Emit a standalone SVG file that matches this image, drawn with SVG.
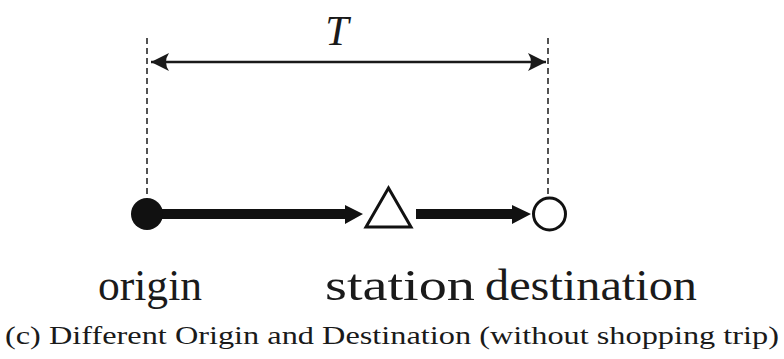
<svg xmlns="http://www.w3.org/2000/svg" width="784" height="359" viewBox="0 0 784 359">
<style>
.dash{stroke:#1a1a1a;stroke-width:1.5;stroke-dasharray:6,4;fill:none}
.lbl{font-family:'Liberation Serif','Times New Roman',Times,serif;fill:#1a1a1a}
</style>
<defs>
<marker id="dimhead" viewBox="0 0 20 20" refX="18" refY="10" markerWidth="20" markerHeight="20" markerUnits="userSpaceOnUse" orient="auto-start-reverse">
<path d="M18,10 L0,1 Q6,10 0,19 Z" fill="#1a1a1a"/>
</marker>
</defs>
<rect width="784" height="359" fill="#fff"/>
<g id="connectors">
<line class="dash" x1="147" y1="38" x2="147" y2="200"/>
<line class="dash" x1="548" y1="38" x2="548" y2="198"/>
<line x1="151" y1="62" x2="546" y2="62" stroke="#1a1a1a" stroke-width="2.5" marker-start="url(#dimhead)" marker-end="url(#dimhead)"/>
<path d="M160,209 H345 V205 L363,214 L345,224 V219 H160 Z" fill="#111"/>
<path d="M416,209 H512 V205 L531,214 L512,224 V219 H416 Z" fill="#111"/>
</g>
<g id="T"><text class="lbl" x="337" y="45" font-size="42" font-style="italic" text-anchor="middle">T</text></g>
<g id="origin">
<circle cx="147" cy="214" r="16" fill="#111"/>
<text class="lbl" x="150" y="300" font-size="44" text-anchor="middle" textLength="104" lengthAdjust="spacingAndGlyphs">origin</text>
</g>
<g id="station">
<polygon points="388.5,188 366,227 411,227" fill="#fff" stroke="#111" stroke-width="3"/>
<text class="lbl" x="400" y="300" font-size="44" text-anchor="middle" textLength="150" lengthAdjust="spacingAndGlyphs">station</text>
</g>
<g id="destination">
<circle cx="549.5" cy="214" r="16" fill="#fff" stroke="#111" stroke-width="3"/>
<text class="lbl" x="591" y="300" font-size="44" text-anchor="middle" textLength="212" lengthAdjust="spacingAndGlyphs">destination</text>
</g>
<g id="caption">
<text class="lbl" x="392" y="344" font-size="26" text-anchor="middle" textLength="774" lengthAdjust="spacingAndGlyphs">(c) Different Origin and Destination (without shopping trip)</text>
</g>
</svg>
